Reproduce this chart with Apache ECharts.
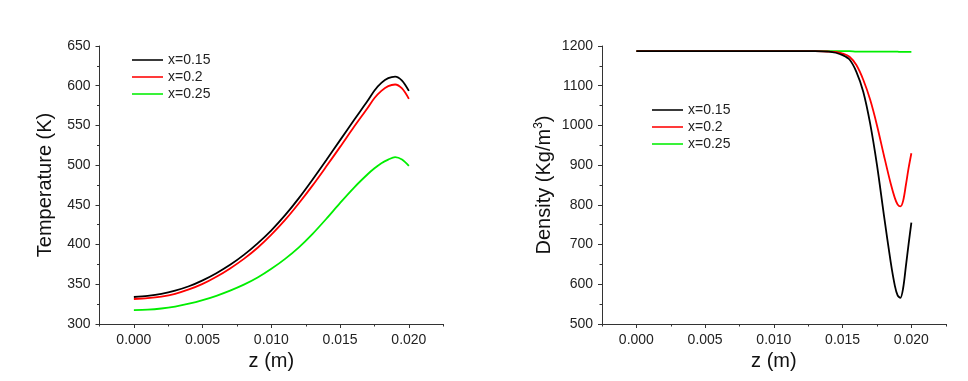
<!DOCTYPE html>
<html>
<head>
<meta charset="utf-8">
<script src="https://cdn.jsdelivr.net/npm/echarts@6/dist/echarts.min.js"></script>
<style>
html,body{margin:0;padding:0;background:#fff;}
#c{width:968px;height:381px;}
</style>
</head>
<body>
<div id="c"></div>
<script>
// ---- data ----
const seriesNames = ['x=0.15', 'x=0.2', 'x=0.25'];
const xTicks = [0, 0.005, 0.01, 0.015, 0.02];
const xMinorTicks = [-0.0025, 0.0025, 0.0075, 0.0125, 0.0175, 0.0225];

const zTemp = [0, 0.001, 0.002, 0.003, 0.004, 0.005, 0.006, 0.007, 0.008, 0.009, 0.010, 0.011, 0.012, 0.013, 0.014, 0.015, 0.016, 0.017, 0.0175, 0.018, 0.0185, 0.019, 0.0195, 0.020];
const temp015 = [334, 335.5, 338, 342, 347.5, 355, 364, 374.5, 387, 401.5, 418, 437, 458.5, 482, 506.5, 531.5, 556.5, 581, 594, 603.5, 609.5, 611.5, 606.5, 593.5];
const temp02  = [331.5, 332.5, 334.5, 338, 343.5, 350.5, 359.5, 370, 382, 396, 412.5, 431, 452, 474.5, 498.5, 523, 548, 572, 584.5, 593.5, 599.5, 601.5, 596.5, 583.5];
const temp025 = [317.5, 318, 319.5, 322, 325.5, 330, 335.5, 342, 349.5, 358.5, 369.5, 382, 396.5, 413.5, 432.5, 452.5, 471.5, 488.5, 496, 502.5, 507, 510, 507, 499];

const zDens = [0, 0.005, 0.010, 0.013, 0.014, 0.0145, 0.015, 0.0155, 0.016, 0.0165, 0.017, 0.0175, 0.018, 0.0185, 0.0188, 0.019, 0.0192, 0.0194, 0.0196, 0.0198, 0.020];
const dens015 = [1187, 1187, 1187, 1187, 1186, 1183, 1177, 1166, 1135, 1085, 1005, 900, 775, 655, 596, 572, 566, 590, 645, 702, 755];
const dens02  = [1187, 1187, 1187, 1187, 1186, 1185, 1181, 1173, 1152, 1115, 1065, 1000, 925, 853, 817, 801, 796, 810, 850, 893, 930];
const dens025 = [1187, 1187, 1187, 1187, 1187, 1187, 1187, 1187, 1186, 1186, 1186, 1186, 1186, 1186, 1186, 1186, 1185, 1185, 1185, 1185, 1185];

const colors = ['#000000', '#ff0000', '#00ee00'];

// ---- chart ----
const pair = (xs, ys) => xs.map((x, i) => [x, ys[i]]);
const font = 'Liberation Sans, Arial, sans-serif';
const axisColor = '#333';

function xMain(gridIndex) {
  return {
    type: 'value', gridIndex, min: -0.0025, max: 0.0225,
    name: 'z (m)', nameLocation: 'middle', nameGap: 27,
    nameTextStyle: { fontFamily: font, fontSize: 20, color: '#111' },
    axisLine: { show: true, onZero: false, lineStyle: { color: axisColor, width: 1 } },
    axisTick: { show: true, length: 4, customValues: xTicks, lineStyle: { color: axisColor } },
    axisLabel: { customValues: xTicks, margin: 9, fontFamily: font, fontSize: 14, color: '#222',
      formatter: v => v.toFixed(3) },
    splitLine: { show: false }
  };
}
function xMinor(gridIndex) {
  return {
    type: 'value', gridIndex, min: -0.0025, max: 0.0225, position: 'bottom',
    axisLine: { show: false, onZero: false },
    axisTick: { show: true, length: 2.5, customValues: xMinorTicks, lineStyle: { color: axisColor } },
    axisLabel: { show: false }, splitLine: { show: false }
  };
}
function yAxis(gridIndex, min, max, interval, name, gap) {
  return {
    type: 'value', gridIndex, min, max, interval,
    name, nameLocation: 'middle', nameGap: gap,
    nameTextStyle: { fontFamily: font, fontSize: 20, color: '#111',
      rich: { sup: { fontFamily: font, fontSize: 12, color: '#111', verticalAlign: 'top', padding: [0, 0, 10, 0] } } },
    axisLine: { show: true, onZero: false, lineStyle: { color: axisColor, width: 1 } },
    axisTick: { show: true, length: 4, lineStyle: { color: axisColor } },
    minorTick: { show: true, splitNumber: 2, length: 2.5, lineStyle: { color: axisColor } },
    axisLabel: { margin: 9, fontFamily: font, fontSize: 14, color: '#222', formatter: v => String(v) },
    splitLine: { show: false }, minorSplitLine: { show: false }
  };
}
function line(name, xIdx, yIdx, data, color) {
  return {
    name, type: 'line', xAxisIndex: xIdx, yAxisIndex: yIdx, data,
    smooth: 0.3, showSymbol: false, symbol: 'none',
    lineStyle: { color, width: 1.8 }, itemStyle: { color }, animation: false
  };
}

const legendBase = {
  orient: 'vertical', itemWidth: 31, itemHeight: 14, itemGap: 3,
  icon: 'path://M0,0 L20,0 L20,1 L0,1 Z',
  data: seriesNames,
  textStyle: { fontFamily: font, fontSize: 14, color: '#222' }
};

const chart = echarts.init(document.getElementById('c'), null, { renderer: 'canvas' });
chart.setOption({
  backgroundColor: '#ffffff',
  animation: false,
  grid: [
    { left: 99.5, top: 46, width: 343.75, height: 278 },
    { left: 602, top: 46, width: 343.75, height: 278 }
  ],
  legend: [
    Object.assign({ left: 127, top: 48 }, legendBase),
    Object.assign({ left: 647, top: 98 }, legendBase)
  ],
  xAxis: [xMain(0), xMinor(0), xMain(1), xMinor(1)],
  yAxis: [
    yAxis(0, 300, 650, 50, 'Temperature (K)', 44),
    yAxis(1, 500, 1200, 100, 'Density (Kg/m{sup|3})', 47)
  ],
  series: [
    line(seriesNames[0], 0, 0, pair(zTemp, temp015), colors[0]),
    line(seriesNames[1], 0, 0, pair(zTemp, temp02), colors[1]),
    line(seriesNames[2], 0, 0, pair(zTemp, temp025), colors[2]),
    line(seriesNames[2], 2, 1, pair(zDens, dens025), colors[2]),
    line(seriesNames[1], 2, 1, pair(zDens, dens02), colors[1]),
    line(seriesNames[0], 2, 1, pair(zDens, dens015), colors[0])
  ]
});
</script>
</body>
</html>
